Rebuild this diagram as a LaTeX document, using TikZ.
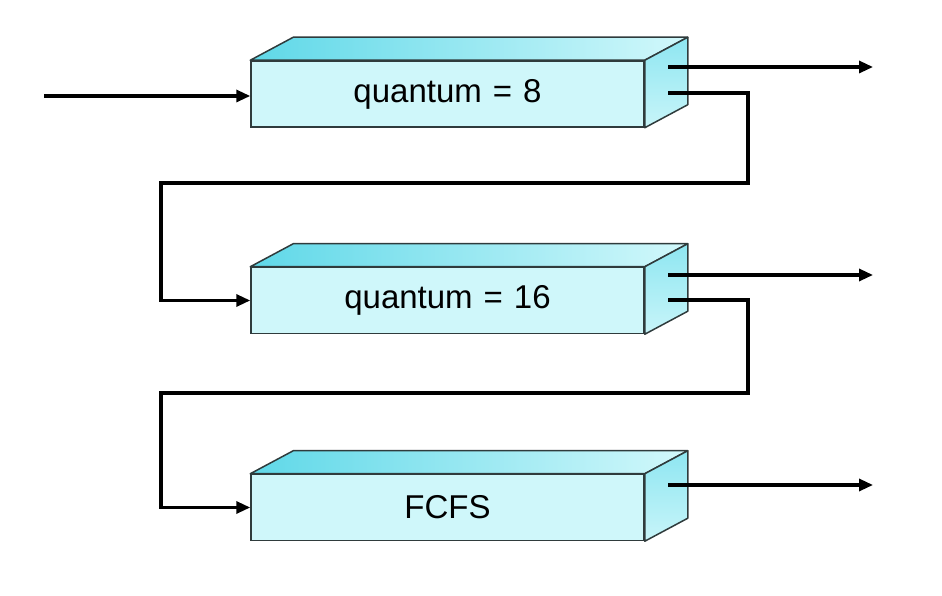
\documentclass[tikz,border=0pt]{standalone}
\usepackage{fontspec}
\setmainfont{Liberation Sans}
\usetikzlibrary{calc,arrows.meta}
\definecolor{frontc}{HTML}{CFF7FA}
\definecolor{topl}{HTML}{5FD8E8}
\definecolor{topr}{HTML}{D2F8FB}
\definecolor{sidet}{HTML}{8EE6F1}
\definecolor{sideb}{HTML}{C8F5F9}
\definecolor{edgec}{HTML}{2F3B3C}
\begin{document}
\begin{tikzpicture}[x=1pt,y=1pt,
 front/.style={draw=edgec, line width=1.5pt, fill=frontc, minimum width=393pt, minimum height=66pt, inner sep=0pt, font=\fontsize{33}{38}\selectfont},
 faceedge/.style={draw=edgec, line width=1.5pt, line join=round},
 conn/.style={line width=3.2pt, black},
 arr/.style={conn, -{Triangle[length=14pt,width=12pt]}},
]
\useasboundingbox (0,0) rectangle (942,596);
\node[front] (q1) at (447.5,502) {quantum\,\,=\,\,8};
\node[front] (q2) at (447.5,295.5) {quantum\,\,=\,\,16};
\node[front] (q3) at (447.5,88.5) {FCFS};
\foreach \b in {q1,q2,q3}{
 \path[faceedge, left color=topl, right color=topr] (\b.north west) -- ++(43,23) -- ($(\b.north east)+(43,23)$) -- (\b.north east) -- cycle;
 \path[faceedge, top color=sidet, bottom color=sideb] (\b.north east) -- ++(43,23) -- ($(\b.south east)+(43,23)$) -- (\b.south east) -- cycle;
}
% exit points
\coordinate (o1a) at ($(q1.center)+(220.5,27)$);
\coordinate (o1b) at ($(q1.center)+(220.5,1)$);
\coordinate (o2a) at ($(q2.center)+(220.5,25.5)$);
\coordinate (o2b) at ($(q2.center)+(220.5,0.5)$);
\coordinate (o3a) at ($(q3.center)+(220.5,22.5)$);
\coordinate (e1) at ($(o1a)+(205,0)$);
\coordinate (e2) at ($(o2a)+(205,0)$);
\coordinate (e3) at ($(o3a)+(205,0)$);
\coordinate (in) at (44,500);
\coordinate (r1) at (748,413);
\coordinate (l1) at (161,413);
\coordinate (r2) at (748,203);
\coordinate (l2) at (161,203);
\draw[arr] (in) -- (q1.west |- in);
\draw[arr] (o1a) -- (e1);
\draw[arr] (o2a) -- (e2);
\draw[arr] (o3a) -- (e3);
\draw[arr] (o1b) -| (r1) -- (l1) |- (q2.west);
\draw[arr] (o2b) -| (r2) -- (l2) |- (q3.west);
\end{tikzpicture}
\end{document}
